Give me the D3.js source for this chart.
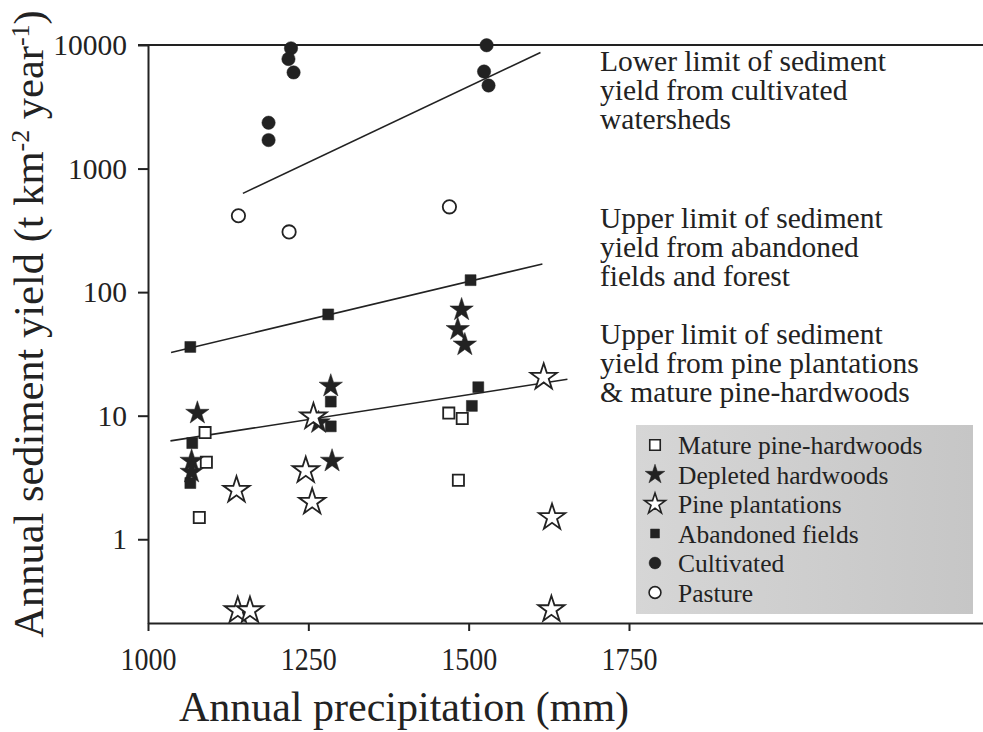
<!DOCTYPE html>
<html>
<head>
<meta charset="utf-8">
<script src="https://cdn.jsdelivr.net/npm/d3@7"></script>
<style>
  body { margin: 0; background: #fff; }
  svg text { font-family: "Liberation Serif", "Times New Roman", serif; fill: #222; }
</style>
</head>
<body>
<div id="chart"></div>
<script>
// data: [precipitation mm, sediment yield t/km2/yr]
var maturePine = [[1089, 7.3], [1091, 4.2], [1080, 1.5], [1469, 10.5], [1490, 9.5], [1484, 3.0]];
var depletedHardwoods = [[1077, 10.5], [1068, 4.3], [1068, 3.5], [1285, 17.4], [1287, 4.3], [1266, 8.8],
                         [1489, 72], [1483, 50], [1494, 37.5]];
var pinePlantations = [[1258, 9.8], [1246, 3.6], [1256, 2.0], [1138, 2.5], [1140, 0.265], [1159, 0.265],
                       [1617, 20.5], [1630, 1.5], [1629, 0.27]];
var abandonedFields = [[1066, 36], [1069, 6.0], [1066, 2.85], [1281, 66], [1285, 13], [1285, 8.2],
                       [1503, 125], [1515, 17], [1505, 12]];
var cultivated = [[1223, 9400], [1219, 7700], [1227, 6000], [1188, 2350], [1188, 1700],
                  [1528, 9950], [1524, 6100], [1531, 4700]];
var pasture = [[1141, 415], [1220, 307], [1470, 490]];

// trend lines (end points)
var cultLine = [[1148, 630], [1612, 8700]];
var fieldLine = [[1036, 32.5], [1615, 169]];
var pineLine = [[1035, 6.25], [1654, 19.7]];

var xTicks = [1000, 1250, 1500, 1750];
var yTicks = [1, 10, 100, 1000, 10000];

var legendNames = ["Mature pine-hardwoods", "Depleted hardwoods", "Pine plantations",
                   "Abandoned fields", "Cultivated", "Pasture"];

var notes = [
  ["Lower limit of sediment", "yield from cultivated", "watersheds"],
  ["Upper limit of sediment", "yield from abandoned", "fields and forest"],
  ["Upper limit of sediment", "yield from pine plantations", "& mature pine-hardwoods"]
];

var width = 983, height = 732;
var ink = "#222";

var svg = d3.select("#chart").append("svg")
    .attr("width", width)
    .attr("height", height);

var x = d3.scaleLinear()
    .domain([1000, 2302])
    .range([148, 983]);

var y = d3.scaleLog()
    .domain([0.21, 10000])
    .range([623, 45]);

// symbol styles per series
var styles = [
  {data: maturePine, type: d3.symbolSquare, size: 125, fill: "#fff", lsize: 110},
  {data: depletedHardwoods, type: d3.symbolStar, size: 170, fill: ink, lsize: 120},
  {data: pinePlantations, type: d3.symbolStar, size: 215, fill: "#fff", lsize: 135},
  {data: abandonedFields, type: d3.symbolSquare, size: 120, fill: ink, lsize: 80},
  {data: cultivated, type: d3.symbolCircle, size: 140, fill: ink, lsize: 110},
  {data: pasture, type: d3.symbolCircle, size: 140, fill: "#fff", lsize: 110}
];

// frame
svg.append("line")
    .attr("x1", x.range()[0] - 10).attr("x2", x.range()[1])
    .attr("y1", y.range()[1]).attr("y2", y.range()[1])
    .attr("stroke", ink).attr("stroke-width", 2);

var yAxis = svg.append("g")
    .attr("transform", "translate(" + x.range()[0] + ",0)")
    .call(d3.axisLeft(y).tickValues(yTicks).tickFormat(d3.format("d"))
        .tickSize(10).tickSizeOuter(0).tickPadding(11));

var xAxis = svg.append("g")
    .attr("transform", "translate(0," + y.range()[0] + ")")
    .call(d3.axisBottom(x).tickValues(xTicks).tickFormat(d3.format("d"))
        .tickSize(8).tickSizeOuter(0));

svg.selectAll(".domain, .tick line")
    .attr("stroke", ink).attr("stroke-width", 2);

yAxis.selectAll("text")
    .style("font-size", "29.5px");

xAxis.selectAll("text")
    .attr("y", 47).attr("dy", null)
    .attr("textLength", 56).attr("lengthAdjust", "spacingAndGlyphs")
    .style("font-size", "32px");

// axis titles
svg.append("text")
    .attr("x", 404).attr("y", 721)
    .attr("text-anchor", "middle")
    .style("font-size", "42px")
    .text("Annual precipitation (mm)");

var yTitle = svg.append("text")
    .attr("transform", "translate(43,324) rotate(-90)")
    .attr("text-anchor", "middle")
    .style("font-size", "42.5px");
yTitle.append("tspan").text("Annual sediment yield (t km");
yTitle.append("tspan").attr("dy", -14).style("font-size", "26px").text("-2");
yTitle.append("tspan").attr("dy", 14).text(" year");
yTitle.append("tspan").attr("dy", -14).style("font-size", "26px").text("-1");
yTitle.append("tspan").attr("dy", 14).text(")");

// trend lines
var line = d3.line()
    .x(d => x(d[0]))
    .y(d => y(d[1]));

[cultLine, fieldLine, pineLine].forEach(function(l) {
  svg.append("path")
    .datum(l)
    .attr("d", line)
    .attr("fill", "none")
    .attr("stroke", ink)
    .attr("stroke-width", 1.6);
});

// points
styles.forEach(function(s) {
  svg.append("g").selectAll("path")
    .data(s.data)
    .enter().append("path")
    .attr("transform", d => "translate(" + x(d[0]) + "," + y(d[1]) + ")")
    .attr("d", d3.symbol().type(s.type).size(s.size))
    .attr("fill", s.fill)
    .attr("stroke", ink)
    .attr("stroke-width", s.fill == ink ? 0.5 : 1.8);
});

// annotations
var noteTop = [71, 228, 344];
notes.forEach(function(lines, i) {
  svg.append("g").selectAll("text")
    .data(lines)
    .enter().append("text")
    .attr("x", 600)
    .attr("y", (d, j) => noteTop[i] + j * 29.2)
    .style("font-size", "29.5px")
    .text(d => d);
});

// legend
var defs = svg.append("defs");
var grad = defs.append("linearGradient").attr("id", "lgGrad");
grad.append("stop").attr("offset", "0%").attr("stop-color", "#d6d6d6");
grad.append("stop").attr("offset", "100%").attr("stop-color", "#c6c6c6");

var legend = svg.append("g").attr("transform", "translate(636,425)");
legend.append("rect")
    .attr("width", 337).attr("height", 189)
    .attr("fill", "url(#lgGrad)");

var items = legend.selectAll(".item")
    .data(styles)
    .enter().append("g")
    .attr("class", "item")
    .attr("transform", (d, i) => "translate(0," + (20 + i * 29.5) + ")");

items.append("path")
    .attr("transform", "translate(19,0)")
    .attr("d", d => d3.symbol().type(d.type).size(d.lsize)())
    .attr("fill", d => d.fill)
    .attr("stroke", ink)
    .attr("stroke-width", d => d.fill == ink ? 0.5 : 1.6);

items.append("text")
    .attr("x", 42)
    .attr("y", 9)
    .style("font-size", "25.5px")
    .text((d, i) => legendNames[i]);
</script>
</body>
</html>
